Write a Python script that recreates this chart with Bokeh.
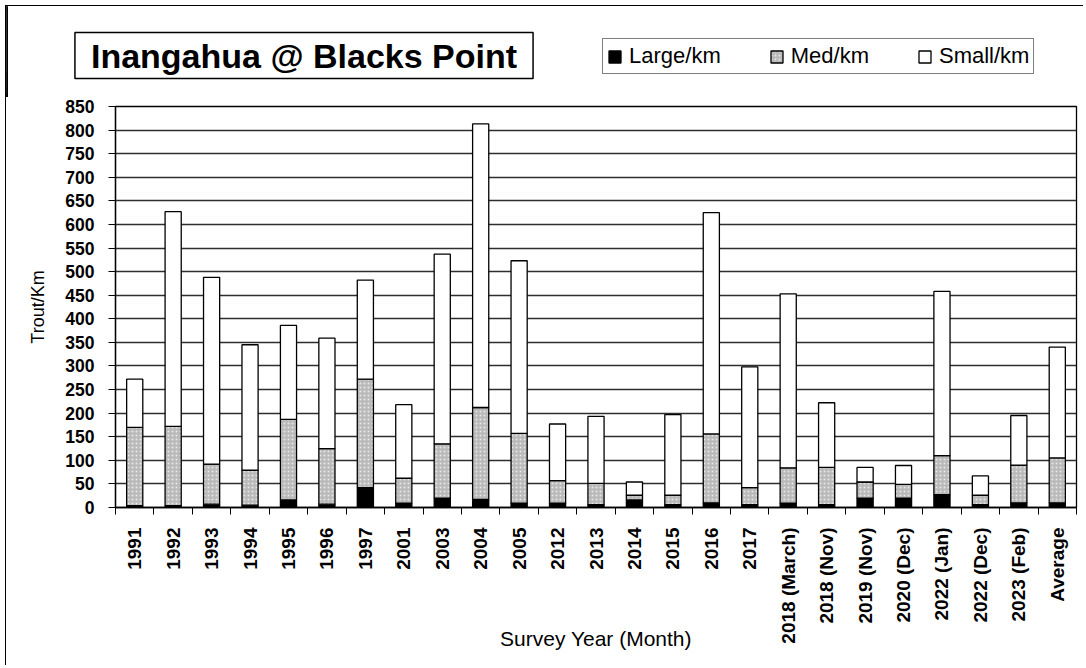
import math
from bokeh.plotting import figure
from bokeh.models import (ColumnDataSource, Range1d, FixedTicker, Label, Legend,
                          LegendItem)
from bokeh.layouts import column
from bokeh.embed import file_html
from bokeh.resources import INLINE

categories = ["1991", "1992", "1993", "1994", "1995", "1996", "1997", "2001", "2003",
              "2004", "2005", "2012", "2013", "2014", "2015", "2016", "2017",
              "2018 (March)", "2018 (Nov)", "2019 (Nov)", "2020 (Dec)", "2022 (Jan)",
              "2022 (Dec)", "2023 (Feb)", "Average"]
large = [4, 4, 7, 5, 16, 7, 42, 9, 20, 17, 9, 9, 6, 16, 6, 10, 6, 9, 6, 20, 20, 27, 6, 10, 10]
med = [166, 168, 85, 74, 171, 118, 230, 53, 115, 195, 148, 48, 45, 10, 20, 146, 36, 75, 79, 34, 29, 83, 20, 80, 95]
small = [102, 455, 396, 266, 199, 234, 210, 156, 402, 601, 366, 120, 142, 28, 171, 469, 256, 369, 137, 31, 40, 348, 41, 105, 235]
y_ticks = list(range(0, 851, 50))
series_names = ["Large/km", "Med/km", "Small/km"]
title_text = "Inangahua @ Blacks Point"

FONT = "Liberation Sans"
FILLS = ["black", "#bababa", "white"]

W = 1078
HEAD_H = 92
MAIN_H = 568

xpos = [i + 0.5 for i in range(len(categories))]
source = ColumnDataSource(dict(x=xpos, large=large, med=med, small=small))


def style_med(r):
    r.glyph.hatch_pattern = "dot"
    r.glyph.hatch_color = "#e6e6e6"
    r.glyph.hatch_scale = 4
    r.glyph.hatch_weight = 1


# ---------------- header (title + legend) ----------------
head = figure(width=W, height=HEAD_H, output_backend="svg", toolbar_location=None,
              x_range=Range1d(0, W), y_range=Range1d(0, HEAD_H),
              x_axis_type=None, y_axis_type=None,
              min_border_left=0, min_border_right=0, min_border_top=0, min_border_bottom=0)
head.frame_align = False
head.styles = {"border-left": "1px solid black", "border-top": "1px solid black"}
head.grid.visible = False
head.outline_line_color = None
head.border_fill_color = "white"
head.background_fill_color = "white"

head.add_layout(Label(x=297.5, y=43, text=title_text, text_align="center",
                      text_baseline="middle", text_font=FONT, text_font_style="bold",
                      text_font_size="34px", text_color="black",
                      border_line_color="black", border_line_width=1.5,
                      background_fill_color="white", padding=(16, 4)))

# legend swatches: same stacked series, drawn on an off-screen range of the header
head.extra_x_ranges = {"off": Range1d(1000, 1001)}
hr = head.vbar_stack(["large", "med", "small"], x="x", width=0.42, source=source,
                     fill_color=FILLS, line_color="black", line_width=1.3,
                     x_range_name="off")
style_med(hr[1])
items = [LegendItem(label=n, renderers=[r]) for n, r in zip(series_names, hr)]
lg = Legend(items=items, orientation="horizontal", location=(596, 24),
            border_line_color="black", border_line_width=1.3, padding=4, spacing=48,
            margin=0, label_standoff=7, glyph_width=15, glyph_height=15,
            label_text_font=FONT, label_text_font_size="22px", label_text_color="black",
            background_fill_alpha=1)
head.add_layout(lg, "center")

# ---------------- main chart ----------------
p = figure(width=W, height=MAIN_H, output_backend="svg", toolbar_location=None,
           x_range=Range1d(0, len(categories)), y_range=Range1d(0, 850),
           min_border_left=109, min_border_right=8, min_border_top=9, min_border_bottom=158)
p.frame_align = False
p.stylesheets = [":host { border-left: 1px solid black; }"]

rs = p.vbar_stack(["large", "med", "small"], x="x", width=0.42, source=source,
                  fill_color=FILLS, line_color="black", line_width=1.3)
style_med(rs[1])

p.outline_line_color = "black"
p.outline_line_width = 1.3
p.background_fill_color = "white"
p.border_fill_color = "white"

p.xgrid.visible = False
yt = FixedTicker(ticks=y_ticks)
p.yaxis.ticker = yt
p.ygrid.ticker = yt
p.ygrid.grid_line_color = "#2e2e2e"
p.ygrid.grid_line_width = 1.3

p.yaxis.major_tick_out = 7
p.yaxis.major_tick_in = 0
p.yaxis.minor_tick_out = 0
p.yaxis.minor_tick_in = 0
p.yaxis.major_label_standoff = 14
p.yaxis.major_label_text_font = FONT
p.yaxis.major_label_text_font_style = "bold"
p.yaxis.major_label_text_font_size = "17.5px"
p.yaxis.major_label_text_color = "black"
p.yaxis.axis_line_color = "black"
p.yaxis.axis_line_width = 1.3
p.yaxis.major_tick_line_color = "black"
p.yaxis.axis_label = "Trout/Km"
p.yaxis.axis_label_text_font = FONT
p.yaxis.axis_label_text_font_style = "normal"
p.yaxis.axis_label_text_font_size = "18px"
p.yaxis.axis_label_text_color = "black"
p.yaxis.axis_label_standoff = 14

p.xaxis.ticker = FixedTicker(ticks=xpos, minor_ticks=list(range(len(categories) + 1)))
p.xaxis.major_label_overrides = {xv: c for xv, c in zip(xpos, categories)}
p.xaxis.major_label_orientation = math.pi / 2
p.xaxis.major_tick_out = 0
p.xaxis.major_tick_in = 0
p.xaxis.minor_tick_out = 7
p.xaxis.minor_tick_in = 0
p.xaxis.minor_tick_line_color = "black"
p.xaxis.major_label_standoff = 13
p.xaxis.major_label_text_font = FONT
p.xaxis.major_label_text_font_style = "bold"
p.xaxis.major_label_text_font_size = "19px"
p.xaxis.major_label_text_color = "black"
p.xaxis.axis_line_color = "black"
p.xaxis.axis_line_width = 1.3
p.xaxis.axis_label = "Survey Year (Month)"
p.xaxis.axis_label_text_font = FONT
p.xaxis.axis_label_text_font_style = "normal"
p.xaxis.axis_label_text_font_size = "21px"
p.xaxis.axis_label_text_color = "black"
p.xaxis.axis_label_standoff = -20

layout = column(head, p, spacing=0, margin=(5, 0, 0, 5))

open("out.html", "w").write(file_html(layout, INLINE))
